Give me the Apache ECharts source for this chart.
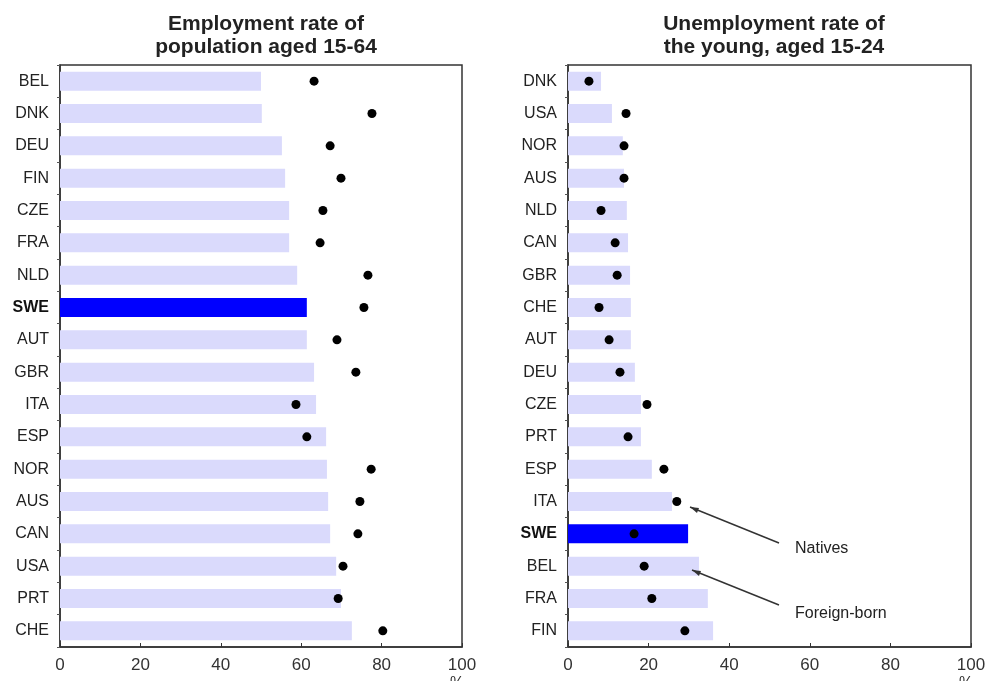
<!DOCTYPE html>
<html>
<head>
<meta charset="utf-8">
<script src="https://cdn.jsdelivr.net/npm/echarts@6/dist/echarts.min.js"></script>
<style>
  html, body { margin: 0; padding: 0; background: #fff; }
  #chart { width: 989px; height: 681px; }
</style>
</head>
<body>
<div id="chart"></div>
<script>
// left panel: employment rate, population aged 15-64
var empCountries = ['BEL', 'DNK', 'DEU', 'FIN', 'CZE', 'FRA', 'NLD', 'SWE', 'AUT', 'GBR', 'ITA', 'ESP', 'NOR', 'AUS', 'CAN', 'USA', 'PRT', 'CHE'];
var empForeign = [50.0, 50.2, 55.2, 56.0, 57.0, 57.0, 59.0, 61.4, 61.4, 63.2, 63.7, 66.2, 66.4, 66.7, 67.2, 68.7, 69.9, 72.6];
var empNatives = [63.2, 77.6, 67.2, 69.9, 65.4, 64.7, 76.6, 75.6, 68.9, 73.6, 58.7, 61.4, 77.4, 74.6, 74.1, 70.4, 69.2, 80.3];

// right panel: unemployment rate of the young, aged 15-24
var unCountries = ['DNK', 'USA', 'NOR', 'AUS', 'NLD', 'CAN', 'GBR', 'CHE', 'AUT', 'DEU', 'CZE', 'PRT', 'ESP', 'ITA', 'SWE', 'BEL', 'FRA', 'FIN'];
var unForeign = [8.2, 10.9, 13.6, 13.9, 14.6, 14.9, 15.4, 15.6, 15.6, 16.6, 18.1, 18.1, 20.8, 25.8, 29.8, 32.5, 34.7, 36.0];
var unNatives = [5.2, 14.4, 13.9, 13.9, 8.2, 11.7, 12.2, 7.7, 10.2, 12.9, 19.6, 14.9, 23.8, 27.0, 16.4, 18.9, 20.8, 29.0];

var xTicks = [0, 20, 40, 60, 80, 100];

var font = 'Liberation Sans, Arial, sans-serif';
var barColor = '#dadafc';
var sweColor = '#0000ff';

function barData(cats, vals) {
  return vals.map(function (v, i) {
    return {
      value: v,
      itemStyle: { color: cats[i] === 'SWE' ? sweColor : barColor }
    };
  });
}

function xAxisFor(idx) {
  return {
    gridIndex: idx,
    type: 'value',
    min: xTicks[0],
    max: xTicks[xTicks.length - 1],
    interval: 20,
    name: '%',
    nameLocation: 'end',
    nameGap: -12,
    nameTextStyle: { fontFamily: font, fontSize: 16, color: '#333', verticalAlign: 'top', padding: [29, 0, 0, 0] },
    axisLine: { show: true, lineStyle: { color: '#333', width: 1.5 } },
    axisTick: { show: true, inside: true, length: 4, lineStyle: { color: '#333' } },
    axisLabel: { fontFamily: font, fontSize: 17, color: '#333', margin: 10 },
    splitLine: { show: false }
  };
}

function yAxisFor(idx, cats) {
  return {
    gridIndex: idx,
    type: 'category',
    data: cats,
    inverse: true,
    axisLine: { show: true, lineStyle: { color: '#333', width: 1.5 } },
    axisTick: { show: true, length: 3, lineStyle: { color: '#555' } },
    axisLabel: {
      fontFamily: font, fontSize: 16, color: '#222', margin: 11,
      formatter: function (v) { return v === 'SWE' ? '{b|' + v + '}' : v; },
      rich: { b: { fontFamily: font, fontSize: 16, fontWeight: 'bold', color: '#111' } }
    }
  };
}

var chart = echarts.init(document.getElementById('chart'));
chart.setOption({
  animation: false,
  backgroundColor: '#fff',
  title: [{
    text: 'Employment rate of\npopulation aged 15-64',
    left: 261, top: 8, textAlign: 'center',
    textStyle: { fontFamily: font, fontSize: 21, fontWeight: 'bold', color: '#222', lineHeight: 23 }
  }, {
    text: 'Unemployment rate of\nthe young, aged 15-24',
    left: 769, top: 8, textAlign: 'center',
    textStyle: { fontFamily: font, fontSize: 21, fontWeight: 'bold', color: '#222', lineHeight: 23 }
  }],
  grid: [
    { left: 60, top: 65, width: 402, height: 582, outerBoundsMode: 'none', containLabel: false, show: true, borderColor: '#333', borderWidth: 1.5, backgroundColor: 'transparent' },
    { left: 568, top: 65, width: 403, height: 582, outerBoundsMode: 'none', containLabel: false, show: true, borderColor: '#333', borderWidth: 1.5, backgroundColor: 'transparent' }
  ],
  xAxis: [xAxisFor(0), xAxisFor(1)],
  yAxis: [yAxisFor(0, empCountries), yAxisFor(1, unCountries)],
  series: [
    { name: 'Foreign-born', type: 'bar', xAxisIndex: 0, yAxisIndex: 0, barWidth: 19, data: barData(empCountries, empForeign) },
    { name: 'Natives', type: 'scatter', xAxisIndex: 0, yAxisIndex: 0, symbolSize: 9, itemStyle: { color: '#000', opacity: 1 }, data: empNatives, z: 5 },
    { name: 'Foreign-born', type: 'bar', xAxisIndex: 1, yAxisIndex: 1, barWidth: 19, data: barData(unCountries, unForeign) },
    { name: 'Natives', type: 'scatter', xAxisIndex: 1, yAxisIndex: 1, symbolSize: 9, itemStyle: { color: '#000', opacity: 1 }, data: unNatives, z: 5 }
  ],
  graphic: [
    // annotation arrows and labels
    { type: 'line', z: 100, shape: { x1: 779, y1: 543, x2: 690, y2: 507 }, style: { stroke: '#333', lineWidth: 1.5 } },
    { type: 'polygon', z: 100, shape: { points: [[690, 507], [699, 508], [697, 513]] }, style: { fill: '#333' } },
    { type: 'text', z: 100, x: 795, y: 549, style: { text: 'Natives', font: '16px ' + font, fill: '#222', verticalAlign: 'middle' } },
    { type: 'line', z: 100, shape: { x1: 779, y1: 605, x2: 692, y2: 570 }, style: { stroke: '#333', lineWidth: 1.5 } },
    { type: 'polygon', z: 100, shape: { points: [[692, 570], [701, 571], [699, 576]] }, style: { fill: '#333' } },
    { type: 'text', z: 100, x: 795, y: 614, style: { text: 'Foreign-born', font: '16px ' + font, fill: '#222', verticalAlign: 'middle' } }
  ]
});
</script>
</body>
</html>
